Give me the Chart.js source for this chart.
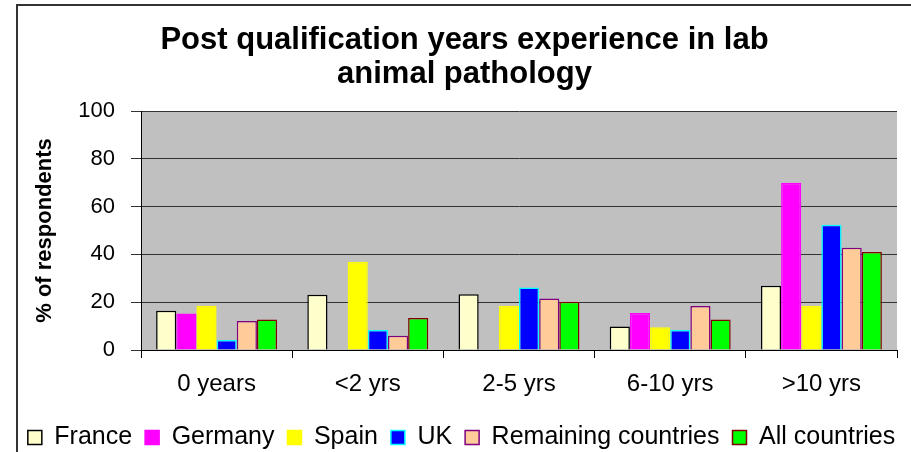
<!DOCTYPE html>
<html>
<head>
<meta charset="utf-8">
<script src="https://cdn.jsdelivr.net/npm/chart.js@4.4.0/dist/chart.umd.min.js"></script>
<style>
  html, body { margin: 0; padding: 0; background: #fff; }
  #wrap { width: 911px; height: 452px; }
</style>
</head>
<body>
<div id="wrap"><canvas id="myChart" width="911" height="452"></canvas></div>
<script>
// categories and values (% of respondents)
const categories = ['0 years', '<2 yrs', '2-5 yrs', '6-10 yrs', '>10 yrs'];
const france    = [16.4, 23.1, 23.3, 9.8, 26.9];
const germany   = [15.3, 0, 0, 15.5, 70];
const spain     = [18.5, 36.9, 18.5, 9.5, 18.5];
const uk        = [4.2, 8.4, 26.2, 8.4, 52.4];
const remaining = [12.1, 6.0, 21.5, 18.4, 42.8];
const allCountries = [12.8, 13.4, 20.2, 12.8, 41];
const yTicks = [0, 20, 40, 60, 80, 100];

const FONT = "'Liberation Sans', Arial, sans-serif";

const plotBg = {
  id: 'plotBg',
  afterLayout(chart) {
    // nudge title and legend to where the original has them
    const t = chart.titleBlock;
    if (t) { t.left += 15; t.right += 15; }
    const lg = chart.legend;
    if (lg) { lg.top += 8; lg.bottom += 8; lg.left += 12; lg.right += 12; }
  },
  beforeDraw(chart) {
    const { ctx, chartArea: a } = chart;
    ctx.save();
    ctx.fillStyle = '#C0C0C0';
    ctx.fillRect(a.left, a.top, a.right - a.left, a.bottom - a.top);
    ctx.restore();
  },
  afterDraw(chart) {
    // outer frame, only left and top edges show in the original
    const ctx = chart.ctx;
    ctx.save();
    ctx.strokeStyle = '#333';
    ctx.lineWidth = 2;
    ctx.beginPath();
    ctx.moveTo(17, 452);
    ctx.lineTo(17, 5);
    ctx.lineTo(911, 5);
    ctx.stroke();
    ctx.restore();
  }
};

function ds(label, data, fill, border) {
  return {
    label: label,
    data: data,
    backgroundColor: fill,
    borderColor: border,
    borderWidth: 1.5,
    categoryPercentage: 0.8,
    barPercentage: 1.0
  };
}

new Chart(document.getElementById('myChart'), {
  type: 'bar',
  data: {
    labels: categories,
    datasets: [
      ds('France', france, '#FFFFCC', '#000000'),
      ds('Germany', germany, '#FF00FF', '#FF00FF'),
      ds('Spain', spain, '#FFFF00', '#FFFF00'),
      ds('UK', uk, '#0000FF', '#00FFFF'),
      ds('Remaining countries', remaining, '#FFCC99', '#800080'),
      ds('All countries', allCountries, '#00FF00', '#800000')
    ]
  },
  plugins: [plotBg],
  options: {
    responsive: false,
    animation: false,
    layout: { padding: { left: 2, right: 14, top: 14, bottom: 0 } },
    plugins: {
      title: {
        display: true,
        text: ['Post qualification years experience in lab', 'animal pathology'],
        color: '#000',
        font: { family: FONT, size: 31, weight: 'bold', lineHeight: 1.097 },
        padding: { top: 9, bottom: 20 }
      },
      legend: {
        position: 'bottom',
        labels: {
          color: '#000',
          font: { family: FONT, size: 25 },
          boxWidth: 14,
          boxHeight: 14,
          padding: 13,
          useBorderRadius: false
        }
      },
      tooltip: { enabled: false }
    },
    scales: {
      x: {
        afterFit(scale) { scale.height = 54; },
        grid: {
          offset: true,
          drawOnChartArea: false,
          color: '#000',
          tickLength: 8
        },
        border: { color: '#000', width: 1 },
        ticks: {
          color: '#000',
          font: { family: FONT, size: 24 },
          padding: 12,
          maxRotation: 0
        }
      },
      y: {
        min: 0,
        max: 100,
        afterFit(scale) { scale.width = 139; },
        afterBuildTicks(axis) {
          axis.ticks = yTicks.map(v => ({ value: v }));
        },
        grid: {
          color: '#333',
          tickLength: 10
        },
        border: { color: '#000', width: 1 },
        ticks: {
          color: '#000',
          font: { family: FONT, size: 22 },
          padding: 16
        },
        title: {
          display: true,
          text: '% of respondents',
          color: '#000',
          font: { family: FONT, size: 22, weight: 'bold' },
          padding: { top: 30, bottom: 4 }
        }
      }
    }
  }
});
</script>
</body>
</html>
